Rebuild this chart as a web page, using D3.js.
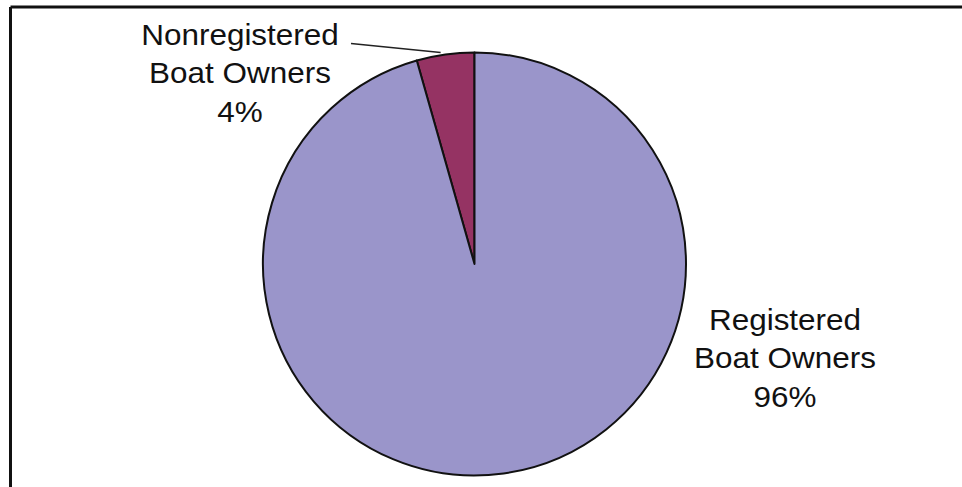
<!DOCTYPE html>
<html>
<head>
<meta charset="utf-8">
<script src="https://cdn.jsdelivr.net/npm/d3@7"></script>
<style>
  html, body { margin: 0; padding: 0; background: #fff; }
  svg { display: block; }
  text { font-family: "Liberation Sans", Arial, Helvetica, sans-serif; fill: #111; }
</style>
</head>
<body>
<svg id="chart" width="962" height="487"></svg>
<script>
// ---- data ----
const categories = ["Nonregistered Boat Owners", "Registered Boat Owners"];
const labelLines = [["Nonregistered", "Boat Owners"], ["Registered", "Boat Owners"]];
const values = [4.4, 95.6];
const percentLabels = ["4%", "96%"];
const colors = ["#953363", "#9a95ca"];

// ---- layout ----
const W = 962, H = 487;
const cx = 474.5, cy = 264, R = 211.5;
const svg = d3.select("#chart");

// frame (top and left edges visible)
svg.append("line").attr("x1", 10.5).attr("x2", W).attr("y1", 7).attr("y2", 7)
  .attr("stroke", "#111").attr("stroke-width", 3);
svg.append("line").attr("x1", 10.5).attr("x2", 10.5).attr("y1", 7).attr("y2", H)
  .attr("stroke", "#111").attr("stroke-width", 3);

const data = categories.map((c, i) => ({ name: c, value: values[i], color: colors[i], lines: labelLines[i], pct: percentLabels[i] }));

const pie = d3.pie().sort(null).value(d => d.value)
  .startAngle(-2 * Math.PI * values[0] / d3.sum(values))
  .endAngle(2 * Math.PI - 2 * Math.PI * values[0] / d3.sum(values));
const arcs = pie(data);
const arc = d3.arc().innerRadius(0).outerRadius(R);

const g = svg.append("g").attr("transform", `translate(${cx},${cy})`);
g.selectAll("path").data(arcs).enter().append("path")
  .attr("d", arc)
  .attr("fill", d => d.data.color)
  .attr("stroke", "#111")
  .attr("stroke-width", 2)
  .attr("stroke-linejoin", "round");

// leader line for small slice
const a0 = arcs[0];
const mid = (a0.startAngle + a0.endAngle) / 2;
const px = cx + Math.sin(mid) * (R - 2), py = cy - Math.cos(mid) * (R - 2);
svg.append("line").attr("x1", 351).attr("y1", 43.5).attr("x2", px - 5).attr("y2", py - 4)
  .attr("stroke", "#222").attr("stroke-width", 1.3);

// labels
const labelPos = [{ x: 240, y: 45 }, { x: 785, y: 330 }];
const lineH = 38.4;
data.forEach((d, i) => {
  const lg = svg.append("g").attr("transform", `translate(${labelPos[i].x},${labelPos[i].y}) scale(1.085,1)`);
  const lines = d.lines.concat([d.pct]);
  lines.forEach((t, j) => {
    lg.append("text").attr("x", 0).attr("y", j * lineH)
      .attr("text-anchor", "middle").attr("font-size", 29).text(t);
  });
});
</script>
</body>
</html>
